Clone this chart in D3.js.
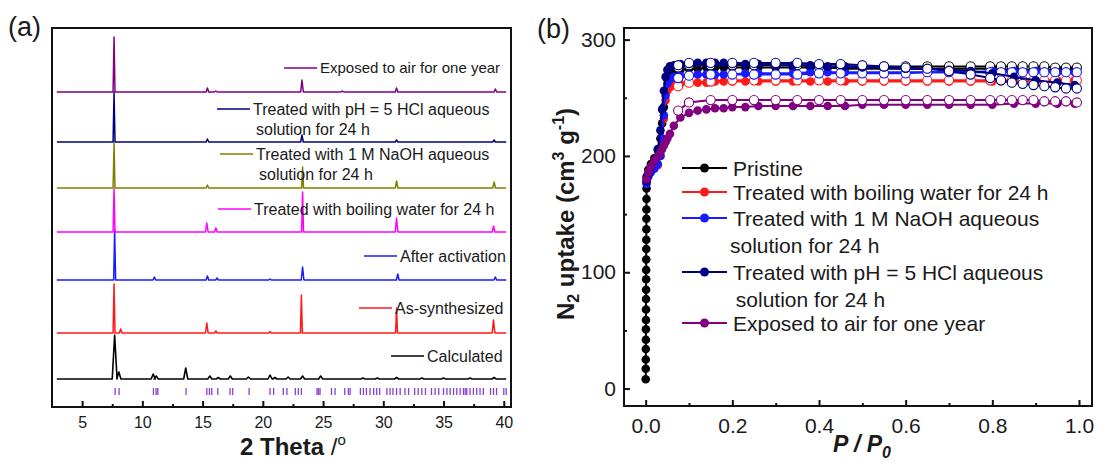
<!DOCTYPE html>
<html><head><meta charset="utf-8">
<script src="https://cdn.jsdelivr.net/npm/d3@7"></script>
<style>
body{margin:0;background:#fff}
svg{display:block}
text{font-family:"Liberation Sans",Arial,sans-serif;fill:#1a1a1a}
</style>
</head><body>
<svg id="c" width="1099" height="467"></svg>
<script>
// ================= DATA =================
// ---- Panel (a): PXRD patterns, peaks as [2theta, height above baseline] ----
const xrdTicks = [5, 10, 15, 20, 25, 30, 35, 40];
const xrdMinorTicks = [7.5, 12.5, 17.5, 22.5, 27.5, 32.5, 37.5];
const calcPeaks = [[7.7,44],[8.05,7],[10.9,5],[11.15,3],[13.6,11],[15.6,3],[16.3,1.5],[17.3,3],[18.8,2],[20.6,4],[21.0,1.5],[22.1,2],[23.3,3],[24.8,3],[28.3,1],[29.5,1],[31.1,1.5],[33.2,1],[35.0,1],[37.2,1],[39.2,1.5]];
const asSynthPeaks = [[7.65,49],[8.2,4],[15.35,10],[16.1,2],[20.6,1.5],[23.2,38],[31.1,25],[39.15,13]];
const activatedPeaks = [[7.7,50],[11.0,3],[15.4,4],[16.2,2],[20.6,1],[23.3,13],[31.2,6],[39.3,3]];
const boilingPeaks = [[7.65,43],[15.35,9],[16.1,4],[23.3,40],[31.1,14],[39.15,6]];
const naohPeaks = [[7.65,45],[15.4,3],[23.3,21],[31.1,7],[39.2,6]];
const hclPeaks = [[7.65,50],[15.4,3],[23.25,7],[31.1,2],[39.2,2]];
const airPeaks = [[7.65,55],[15.4,4],[16.1,1],[23.25,12],[26.6,1],[31.1,4],[39.3,3]];
const xrdBaselines = [28, 74, 127, 175, 219, 265, 315];
const xrdLabels = [
  ["Calculated"],
  ["As-synthesized"],
  ["After activation"],
  ["Treated with boiling water for 24 h"],
  ["Treated with 1 M NaOH aqueous", "solution for 24 h"],
  ["Treated with pH = 5 HCl aqueous", "solution for 24 h"],
  ["Exposed to air for one year"]
];
const reflections = [7.74,8.07,10.92,11.14,11.28,13.63,15.35,15.57,15.76,16.26,17.28,17.5,18.86,20.6,20.9,21.7,22.0,22.7,22.95,23.2,24.5,24.62,24.75,25.7,26.0,26.8,27.1,27.25,28.1,28.35,28.6,28.9,29.2,29.45,29.7,30.3,30.56,30.8,31.1,31.4,31.8,32.1,32.6,32.9,33.2,33.5,34.0,34.3,34.6,35.0,35.28,35.55,35.83,36.1,36.38,36.65,36.8,36.93,37.2,37.48,37.75,38.03,38.3,38.9,39.15,39.4,40.0,40.2];

// ---- Panel (b): N2 isotherms ----
const isoXTicks = [0, 0.2, 0.4, 0.6, 0.8, 1.0];
const isoXMinor = [0.1, 0.3, 0.5, 0.7, 0.9];
const isoYTicks = [0, 100, 200, 300];
const isoYMinor = [50, 150, 250];
const adsP = [0.002,0.006,0.012,0.02,0.028,0.034,0.038,0.042,0.046,0.05,0.056,0.065,0.08,0.1,0.12,0.14,0.16,0.18,0.2,0.23,0.26,0.3,0.34,0.38,0.42,0.46,0.5,0.55,0.6,0.65,0.7,0.75,0.8,0.85,0.9,0.95,0.99];
const desP = [0.995,0.97,0.945,0.92,0.895,0.87,0.845,0.82,0.795,0.75,0.7,0.65,0.6,0.55,0.5,0.45,0.4,0.35,0.3,0.25,0.2,0.15,0.1,0.075];
const pristineLowP = [0.0001,0.0002,0.0003,0.0004,0.0005,0.0006,0.0007,0.0008,0.0009,0.001,0.0011,0.0012,0.0013,0.0014,0.0015,0.0016,0.0017,0.0018,0.0019,0.002];
const pristineLowV = [8,17,25,34,42,51,59,68,77,85,94,102,111,120,128,137,146,154,163,172];
const pristineAds = [182,188,193,198,205,215,228,242,256,266,271,273,274,275,275,276,276,276,276,276,276,276,276,276,276,275,275,275,275,275,275,275,275,274,274,274,274];
const pristineDes = [276,276,276,277,277,277,277,277,277,277,277,277,277,277,277,277,277,278,278,278,278,278,278,276];
const boilingAds = [178,184,188,190,192,200,215,232,248,256,259,261,262,263,263,263,264,264,264,264,264,264,264,264,264,264,264,264,264,264,264,264,264,264,264,265,265];
const boilingDes = [265,265,265,265,265,265,265,265,265,265,265,265,265,265,265,265,265,265,265,265,265,264,263,260];
const naohAds = [176,182,186,189,193,200,215,235,252,262,266,268,269,269,270,270,270,270,270,271,271,271,271,272,272,272,272,272,272,272,272,272,273,273,273,272,272];
const naohDes = [272,272,272,272,272,272,272,272,272,272,272,272,271,271,271,271,271,270,270,270,270,270,269,267];
const hclAds = [178,184,190,196,206,222,240,256,268,274,277,278,279,279,280,280,280,280,279,279,279,278,278,278,277,277,276,276,275,275,274,273,271,268,265,263,261];
const hclDes = [258,258,259,260,261,262,263,265,267,270,273,275,276,277,278,279,279,280,280,280,280,280,280,278];
const airAds = [180,186,191,196,200,203,206,209,212,215,219,226,233,237,239,240,241,241,242,242,243,243,243,243,243,243,244,244,244,244,244,244,244,245,245,245,245];
const airDes = [246,247,247,247,248,248,248,248,248,248,248,248,248,248,248,248,248,248,248,248,248,248,246,239];
const isoNames = [
  ["Pristine"],
  ["Treated with boiling water for 24 h"],
  ["Treated with 1 M NaOH aqueous", "solution for 24 h"],
  ["Treated with pH = 5 HCl aqueous", " solution for 24 h"],
  ["Exposed to air for one year"]
];

// ================= DRAWING =================
const svg = d3.select("#c");

// ---------- Panel (a) ----------
const A = {l: 52, t: 28, r: 511, b: 407};
const xA = d3.scaleLinear().domain([2.5, 40.6]).range([A.l, A.r]);
const yA = d3.scaleLinear().domain([0, 379]).range([A.b, A.t]);
const xrdColors = ["#000000", "#ff1a1a", "#1a1aff", "#ff00ff", "#808000", "#000080", "#800080"];
const xrdSets = [calcPeaks, asSynthPeaks, activatedPeaks, boilingPeaks, naohPeaks, hclPeaks, airPeaks];

function buildPattern(peaks, halfW) {
  const pts = [[2.9, 0]];
  peaks.slice().sort((a, b) => a[0] - b[0]).forEach(p => {
    const w = halfW(p);
    pts.push([p[0] - w, 0], [p[0], p[1]], [p[0] + w, 0]);
  });
  pts.push([40.2, 0]);
  return pts;
}

const gA = svg.append("g");
xrdSets.forEach((peaks, i) => {
  const base = xrdBaselines[i];
  const pts = buildPattern(peaks, p => i === 0 ? (p[1] > 20 ? 0.2 : 0.17) : (p[1] > 20 ? 0.08 : 0.11));
  gA.append("path")
    .attr("d", d3.line().x(d => xA(d[0])).y(d => yA(d[1] + base))(pts))
    .attr("fill", "none").attr("stroke", xrdColors[i])
    .attr("stroke-width", i === 0 ? 1.6 : 1.5).attr("stroke-linejoin", "round");
});

// reflection marks
gA.selectAll("line.refl").data(reflections).enter().append("line")
  .attr("x1", d => xA(d)).attr("x2", d => xA(d))
  .attr("y1", yA(12)).attr("y2", yA(19))
  .attr("stroke", "#8a3fd6").attr("stroke-width", 1.3);

// labels in (a): [text start x, centre y of first line, font size]
const xrdLabelPos = [[427, 356, 16], [395, 308, 16], [400, 256, 16], [254, 209, 16], [256, 154, 16], [253, 109, 16], [320, 68, 15]];
xrdLabels.forEach((lines, i) => {
  const [tx, ty, fs] = xrdLabelPos[i];
  gA.append("line").attr("x1", tx - 36).attr("x2", tx - 3).attr("y1", ty).attr("y2", ty)
    .attr("stroke", xrdColors[i]).attr("stroke-width", 1.6);
  lines.forEach((s, k) => {
    gA.append("text").attr("x", tx + (k > 0 ? 3 : 0)).attr("y", ty + k * 20).attr("dy", "0.36em")
      .attr("font-size", fs).text(s);
  });
});

// axes (a)
const axA = d3.axisBottom(xA).tickValues(xrdTicks).tickSize(-6).tickPadding(10).tickFormat(d3.format("d"));
const gxA = svg.append("g").attr("transform", `translate(0,${A.b})`).call(axA);
const axAm = d3.axisBottom(xA).tickValues(xrdMinorTicks).tickSize(-3).tickFormat("");
const gxAm = svg.append("g").attr("transform", `translate(0,${A.b})`).call(axAm);
[gxA, gxAm].forEach(g => {
  g.select(".domain").remove();
  g.selectAll(".tick line").attr("stroke", "#111").attr("stroke-width", 2);
  g.selectAll(".tick text").attr("font-size", 16).attr("fill", "#1a1a1a").style("font-family", '"Liberation Sans",Arial,sans-serif');
});
svg.append("rect").attr("x", A.l).attr("y", A.t).attr("width", A.r - A.l).attr("height", A.b - A.t)
  .attr("fill", "none").attr("stroke", "#111").attr("stroke-width", 2);

const tA = svg.append("text").attr("x", 240).attr("y", 455).attr("font-size", 24).attr("font-weight", "bold");
tA.append("tspan").text("2 Theta ");
tA.append("tspan").attr("font-weight", "normal").text("/");
tA.append("tspan").attr("font-weight", "normal").attr("font-size", 15).attr("dy", -10).text("o");
svg.append("text").attr("x", 8).attr("y", 36).attr("font-size", 27).text("(a)");

// ---------- Panel (b) ----------
const B = {l: 624, t: 28, r: 1092, b: 406};
const xB = d3.scaleLinear().domain([-0.05, 1.03]).range([B.l, B.r]);
const yB = d3.scaleLinear().domain([-15, 310]).range([B.b, B.t]);
const isoColors = ["#000000", "#ff1a1a", "#1a1aff", "#000080", "#800080"];
const zip = (P, V) => P.map((p, i) => [p, V[i]]);
const isoSeries = [
  {ads: zip(pristineLowP, pristineLowV).concat(zip(adsP, pristineAds)), des: zip(desP, pristineDes)},
  {ads: zip(adsP, boilingAds), des: zip(desP, boilingDes)},
  {ads: zip(adsP, naohAds), des: zip(desP, naohDes)},
  {ads: zip(adsP, hclAds), des: zip(desP, hclDes)},
  {ads: zip(adsP, airAds), des: zip(desP, airDes)}
];
const lineB = d3.line().x(d => xB(d[0])).y(d => yB(d[1]));
const gB = svg.append("g");
isoSeries.forEach((s, i) => {
  const c = isoColors[i];
  const g = gB.append("g");
  g.append("path").attr("d", lineB(s.ads)).attr("fill", "none").attr("stroke", c).attr("stroke-width", 2);
  g.append("path").attr("d", lineB(s.des)).attr("fill", "none").attr("stroke", c).attr("stroke-width", 2);
  g.selectAll("circle.a").data(s.ads).enter().append("circle")
    .attr("cx", d => xB(d[0])).attr("cy", d => yB(d[1])).attr("r", 4.3).attr("fill", c);
  g.selectAll("circle.d").data(s.des).enter().append("circle")
    .attr("cx", d => xB(d[0])).attr("cy", d => yB(d[1])).attr("r", 4.6)
    .attr("fill", "#fff").attr("stroke", c).attr("stroke-width", 1.1);
});

// legend (b)
const legRows = [168, 192, 218, 272, 323];
isoNames.forEach((lines, i) => {
  const y = legRows[i], c = isoColors[i];
  gB.append("line").attr("x1", 682).attr("x2", 727).attr("y1", y).attr("y2", y).attr("stroke", c).attr("stroke-width", 2);
  gB.append("circle").attr("cx", 704.5).attr("cy", y).attr("r", 4.5).attr("fill", c);
  lines.forEach((s, k) => {
    gB.append("text").attr("x", 733 + (k > 0 ? -3 : 0)).attr("y", y + k * 27).attr("dy", "0.36em")
      .attr("font-size", 21).style("white-space", "pre").attr("xml:space", "preserve").text(s);
  });
});

// axes (b)
function styleAxis(g, fs) {
  g.select(".domain").remove();
  g.selectAll(".tick line").attr("stroke", "#111").attr("stroke-width", 2);
  g.selectAll(".tick text").attr("font-size", fs).attr("fill", "#1a1a1a").style("font-family", '"Liberation Sans",Arial,sans-serif');
}
styleAxis(svg.append("g").attr("transform", `translate(0,${B.b})`)
  .call(d3.axisBottom(xB).tickValues(isoXTicks).tickSize(-6).tickPadding(12).tickFormat(d3.format(".1f"))), 21);
styleAxis(svg.append("g").attr("transform", `translate(0,${B.b})`)
  .call(d3.axisBottom(xB).tickValues(isoXMinor).tickSize(-3).tickFormat("")), 21);
styleAxis(svg.append("g").attr("transform", `translate(${B.l},0)`)
  .call(d3.axisLeft(yB).tickValues(isoYTicks).tickSize(-6).tickPadding(8).tickFormat(d3.format("d"))), 21);
styleAxis(svg.append("g").attr("transform", `translate(${B.l},0)`)
  .call(d3.axisLeft(yB).tickValues(isoYMinor).tickSize(-3).tickFormat("")), 21);
svg.append("rect").attr("x", B.l).attr("y", B.t).attr("width", B.r - B.l).attr("height", B.b - B.t)
  .attr("fill", "none").attr("stroke", "#111").attr("stroke-width", 2);

// y title (b)
const ty = svg.append("text").attr("transform", "translate(574,214) rotate(-90)")
  .attr("text-anchor", "middle").attr("font-size", 24).attr("font-weight", "bold");
ty.append("tspan").text("N");
ty.append("tspan").attr("font-size", 16).attr("dy", 5).text("2");
ty.append("tspan").attr("dy", -5).text(" uptake (cm");
ty.append("tspan").attr("font-size", 16).attr("dy", -10).text("3");
ty.append("tspan").attr("dy", 10).text(" g");
ty.append("tspan").attr("font-size", 16).attr("dy", -10).text("-1");
ty.append("tspan").attr("dy", 10).text(")");

// x title (b)
const tx = svg.append("text").attr("x", 862).attr("y", 452).attr("text-anchor", "middle")
  .attr("font-size", 23).attr("font-weight", "bold").attr("font-style", "italic");
tx.append("tspan").text("P / P");
tx.append("tspan").attr("font-size", 16).attr("dy", 6).text("0");

svg.append("text").attr("x", 537).attr("y", 38).attr("font-size", 27).text("(b)");
</script>
</body></html>
